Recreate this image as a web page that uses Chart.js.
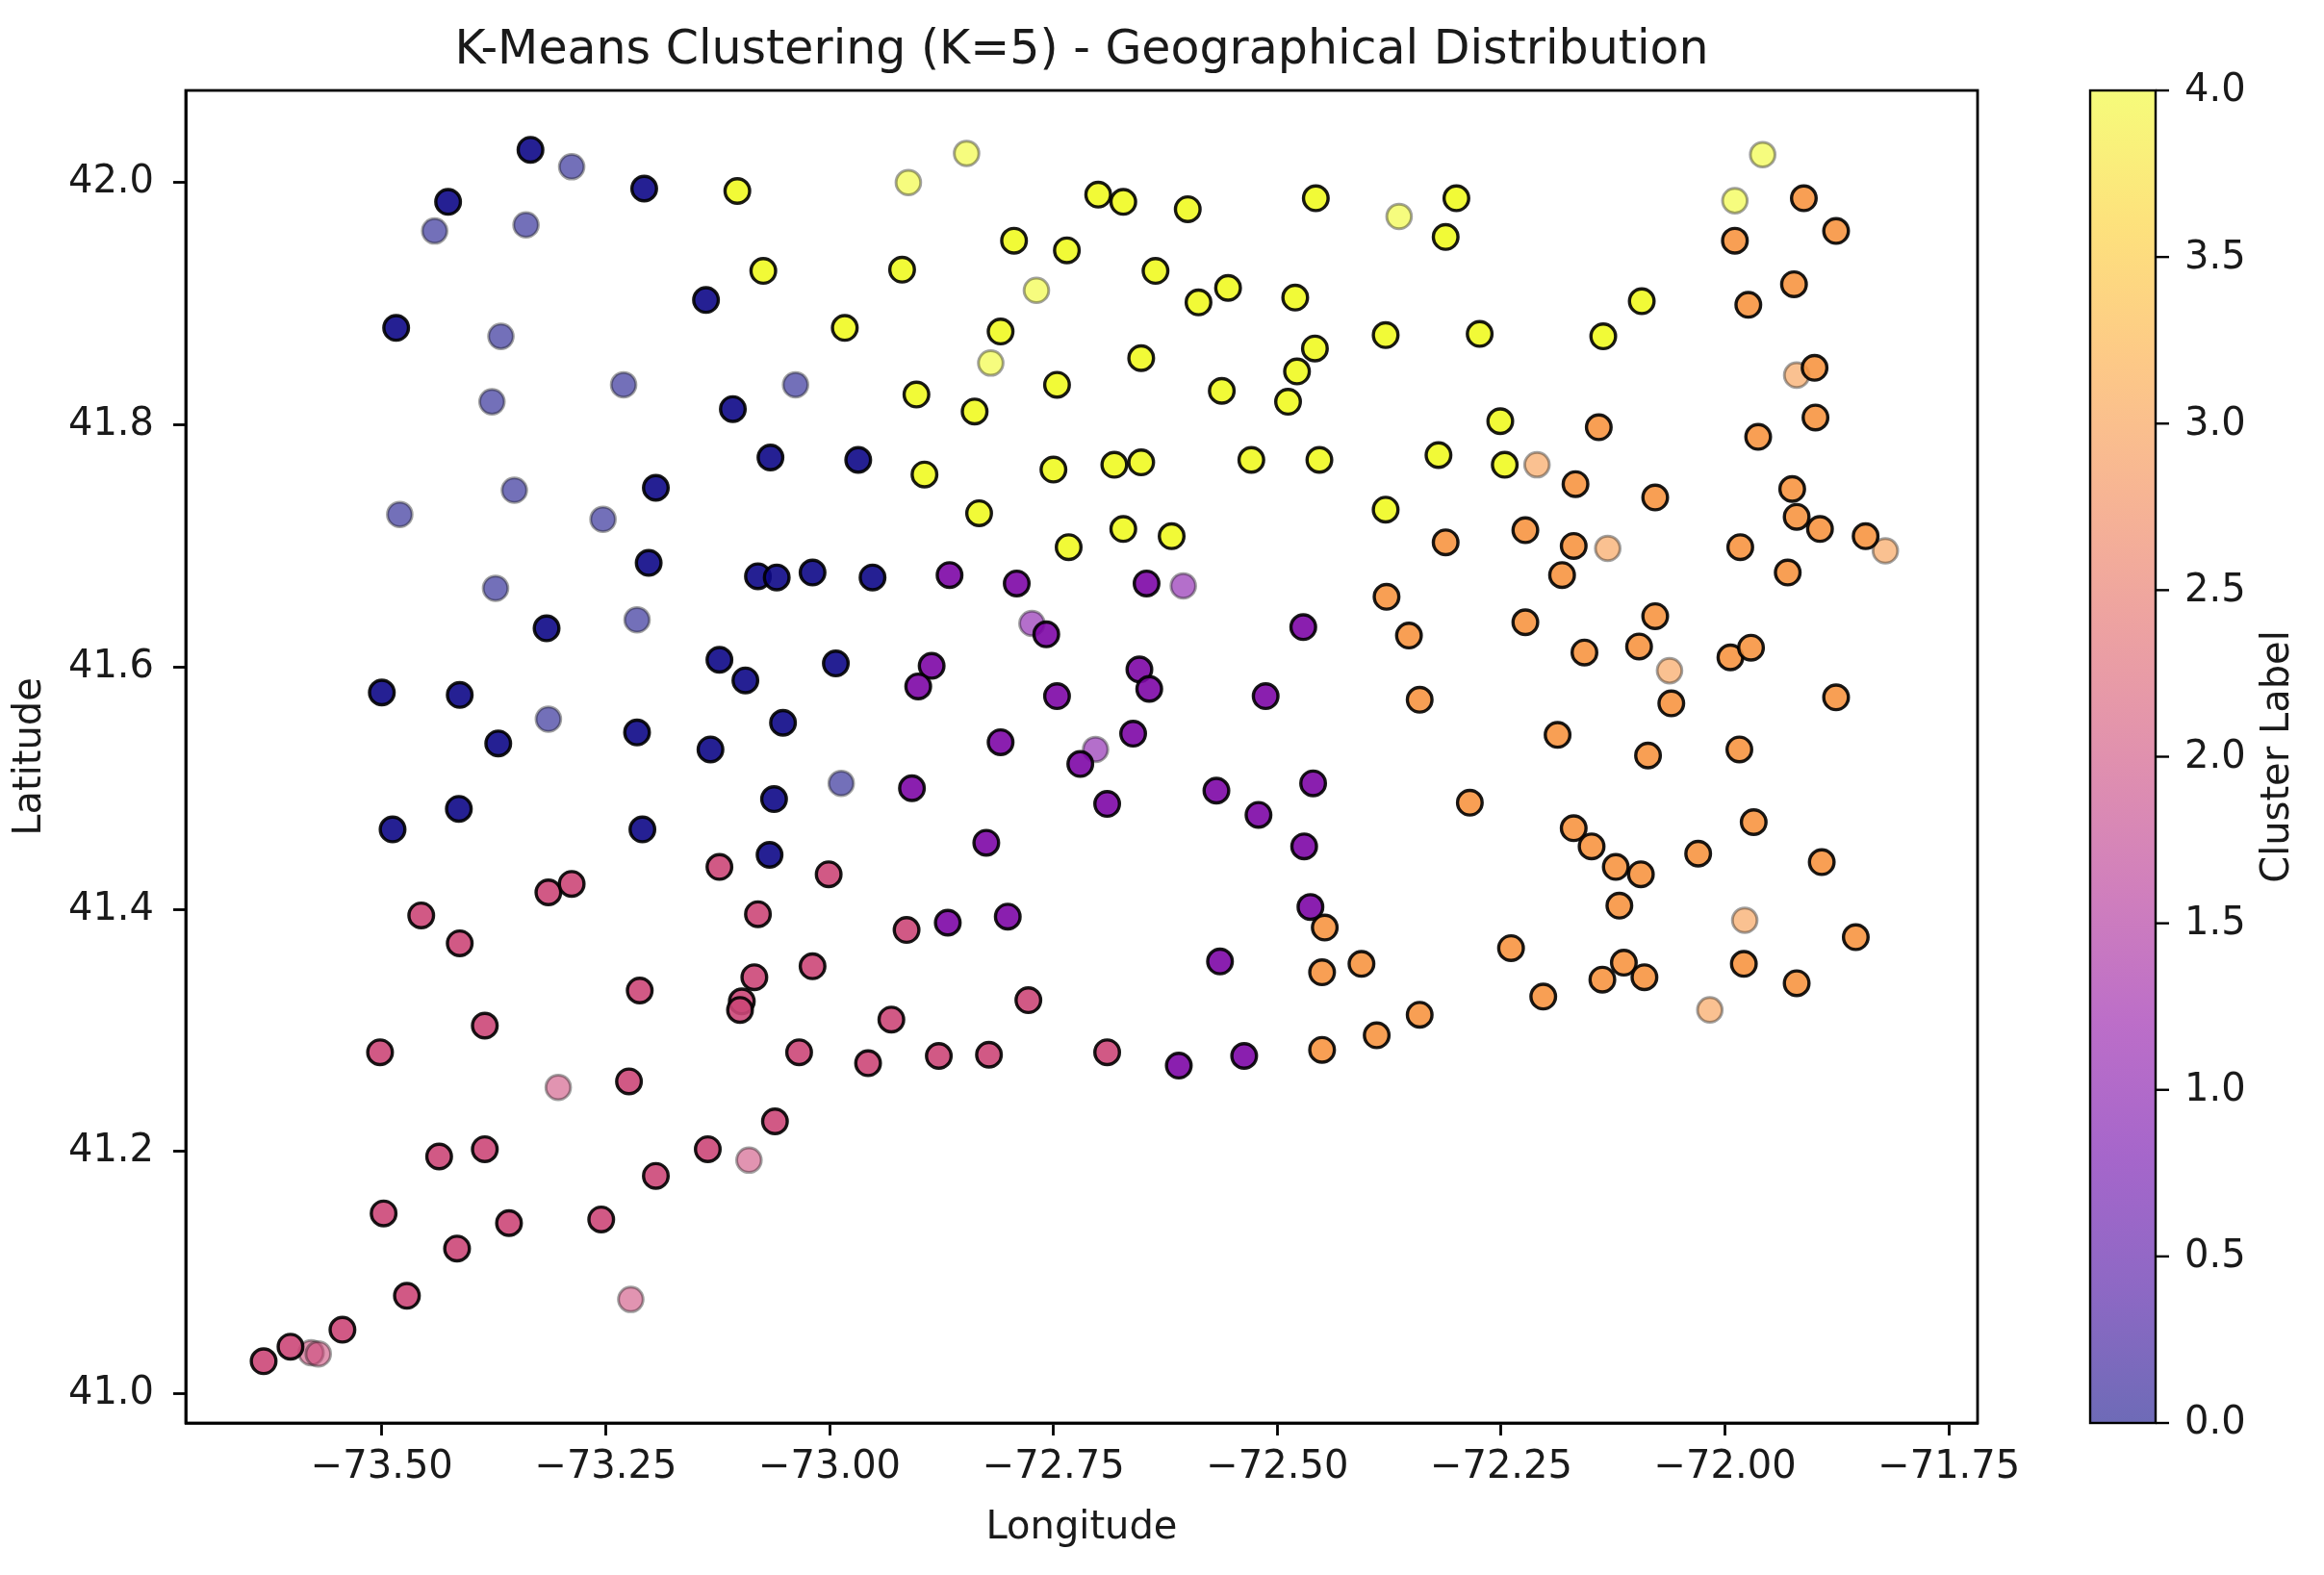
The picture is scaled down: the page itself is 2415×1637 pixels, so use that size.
<!DOCTYPE html>
<html>
<head>
<meta charset="utf-8">
<title>K-Means Clustering (K=5) - Geographical Distribution</title>
<script src="https://cdn.jsdelivr.net/npm/chart.js@4.4.1/dist/chart.umd.min.js"></script>
<style>
  html, body { margin: 0; padding: 0; background: #fff; }
  #wrap { width: 2415px; height: 1637px; }
</style>
</head>
<body>
<div id="wrap"><canvas id="chart" width="2415" height="1637"></canvas></div>
<script>
// Data: longitude / latitude per cluster,
// dup = 2 where the point shows up dark/outlined (drawn twice), 1 where it is faint
const lon0 = [-73.334,-73.288,-73.207,-73.426,-73.441,-73.339,-73.138,-73.484,-73.367,-73.230,-73.038,-73.377,-73.108,-73.066,-72.968,-73.352,-73.194,-73.480,-73.253,-73.202,-73.080,-73.059,-73.019,-72.952,-73.373,-73.316,-73.215,-73.123,-73.094,-72.993,-73.500,-73.413,-73.314,-73.370,-73.215,-73.133,-73.052,-73.414,-73.488,-73.209,-73.062,-73.067,-72.987];
const lat0 = [42.027,42.013,41.995,41.984,41.960,41.965,41.903,41.880,41.873,41.833,41.833,41.819,41.813,41.773,41.771,41.746,41.748,41.726,41.722,41.686,41.675,41.674,41.678,41.674,41.665,41.632,41.639,41.606,41.589,41.603,41.579,41.577,41.557,41.537,41.546,41.532,41.554,41.483,41.466,41.466,41.491,41.445,41.504];
const dup0 = [2,1,2,2,1,1,2,2,1,1,1,1,2,2,2,1,2,1,1,2,2,2,2,2,1,2,1,2,2,2,2,2,1,2,2,2,2,2,2,2,2,2,1];

const lon1 = [-72.866,-72.791,-72.646,-72.605,-72.774,-72.758,-72.471,-72.886,-72.901,-72.654,-72.643,-72.746,-72.513,-72.809,-72.661,-72.703,-72.720,-72.908,-72.690,-72.568,-72.521,-72.460,-72.470,-72.825,-72.868,-72.801,-72.463,-72.564,-72.610,-72.537];
const lat1 = [41.676,41.669,41.669,41.667,41.636,41.627,41.633,41.601,41.584,41.598,41.582,41.576,41.576,41.538,41.545,41.532,41.520,41.500,41.487,41.498,41.478,41.504,41.452,41.455,41.389,41.394,41.402,41.357,41.271,41.279];
const dup1 = [2,2,2,1,1,2,2,2,2,2,2,2,2,2,2,1,2,2,2,2,2,2,2,2,2,2,2,2,2,2];

const lon2 = [-73.123,-73.314,-73.288,-73.456,-73.080,-73.413,-73.084,-73.098,-73.100,-73.212,-73.385,-73.502,-73.303,-73.224,-73.061,-73.436,-73.385,-73.136,-73.090,-73.194,-73.498,-73.358,-73.255,-73.416,-73.472,-73.222,-73.544,-73.632,-73.602,-73.579,-73.571,-73.001,-72.914,-73.019,-72.778,-72.931,-73.034,-72.957,-72.878,-72.822,-72.690];
const lat2 = [41.435,41.414,41.421,41.395,41.396,41.372,41.344,41.324,41.317,41.333,41.304,41.282,41.253,41.258,41.225,41.196,41.202,41.202,41.193,41.180,41.149,41.141,41.144,41.120,41.081,41.078,41.053,41.027,41.039,41.034,41.033,41.429,41.383,41.353,41.325,41.309,41.282,41.273,41.279,41.280,41.282];
const dup2 = [2,2,2,2,2,2,2,2,2,2,2,2,1,2,2,2,2,2,1,2,2,2,2,2,2,1,2,2,2,1,1,2,2,2,2,2,2,2,2,2,2];

const lon3 = [-71.912,-71.876,-71.989,-71.923,-71.974,-71.900,-71.920,-71.899,-71.963,-72.141,-72.210,-72.167,-72.078,-71.925,-71.920,-71.894,-71.843,-71.821,-72.312,-72.223,-72.169,-72.131,-72.182,-71.983,-71.930,-72.378,-72.353,-72.223,-72.078,-72.157,-72.096,-71.994,-71.971,-72.062,-72.341,-72.060,-71.876,-72.187,-72.086,-71.984,-72.285,-72.169,-72.149,-72.122,-72.094,-72.030,-71.968,-71.892,-72.118,-71.978,-71.854,-72.239,-72.113,-72.137,-72.090,-71.979,-71.920,-72.203,-72.341,-72.389,-72.017,-72.447,-72.450,-72.406,-72.450];
const lat3 = [41.987,41.960,41.952,41.916,41.899,41.847,41.841,41.806,41.790,41.798,41.767,41.751,41.740,41.747,41.724,41.714,41.708,41.696,41.703,41.713,41.700,41.698,41.676,41.699,41.678,41.658,41.626,41.637,41.642,41.612,41.617,41.608,41.616,41.597,41.573,41.570,41.575,41.544,41.527,41.532,41.488,41.467,41.452,41.435,41.429,41.446,41.472,41.439,41.403,41.391,41.377,41.368,41.356,41.342,41.344,41.355,41.339,41.328,41.313,41.296,41.317,41.385,41.348,41.355,41.284];
const dup3 = [2,2,2,2,2,2,1,2,2,2,1,2,2,2,2,2,2,1,2,2,2,1,2,2,2,2,2,2,2,2,2,2,2,1,2,2,2,2,2,2,2,2,2,2,2,2,2,2,2,1,2,2,2,2,2,2,2,2,2,2,1,2,2,2,2];

const lon4 = [-73.103,-73.074,-72.847,-72.912,-72.700,-72.672,-72.600,-72.457,-72.794,-72.735,-72.919,-72.636,-72.555,-72.588,-72.480,-72.769,-72.983,-72.809,-72.379,-72.458,-72.652,-72.820,-72.478,-72.746,-72.562,-72.488,-72.903,-72.838,-72.894,-72.750,-72.682,-72.652,-72.529,-72.453,-72.379,-72.833,-72.672,-72.618,-72.733,-72.364,-72.300,-72.312,-71.989,-71.958,-72.093,-72.274,-72.136,-72.251,-72.320,-72.246];
const lat4 = [41.993,41.927,42.024,42.000,41.990,41.984,41.978,41.987,41.952,41.944,41.928,41.927,41.913,41.901,41.905,41.911,41.880,41.877,41.874,41.863,41.855,41.851,41.844,41.833,41.828,41.819,41.825,41.811,41.759,41.763,41.767,41.769,41.771,41.771,41.730,41.727,41.714,41.708,41.699,41.972,41.987,41.955,41.985,42.023,41.902,41.875,41.873,41.803,41.775,41.767];
const dup4 = [2,2,1,1,2,2,2,2,2,2,2,2,2,2,2,1,2,2,2,2,2,1,2,2,2,2,2,2,2,2,2,2,2,2,2,2,2,2,2,1,2,2,1,1,2,2,2,2,2,2];

const clusterLabels = [0, 1, 2, 3, 4];
const xTicks = [-73.5, -73.25, -73.0, -72.75, -72.5, -72.25, -72.0, -71.75];
const yTicks = [41.0, 41.2, 41.4, 41.6, 41.8, 42.0];
const cbTicks = [0.0, 0.5, 1.0, 1.5, 2.0, 2.5, 3.0, 3.5, 4.0];

const lons = [lon0, lon1, lon2, lon3, lon4];
const lats = [lat0, lat1, lat2, lat3, lat4];
const dups = [dup0, dup1, dup2, dup3, dup4];

// plasma colormap samples (t = 0 .. 1)
const plasma = ['#0d0887','#41049d','#6a00a8','#8f0da4','#b12a90','#cc4778','#e16462','#f2844b','#fca636','#fcce25','#f0f921'];

function hexRgb(h) {
    return [parseInt(h.slice(1, 3), 16), parseInt(h.slice(3, 5), 16), parseInt(h.slice(5, 7), 16)];
}
function plasmaAt(t) {
    const p = t * (plasma.length - 1);
    const i = Math.min(Math.floor(p), plasma.length - 2);
    const f = p - i;
    const a = hexRgb(plasma[i]), b = hexRgb(plasma[i + 1]);
    return a.map((v, k) => Math.round(v + (b[k] - v) * f));
}
function rgba(c, a) { return `rgba(${c[0]},${c[1]},${c[2]},${a})`; }

const FONT = 'DejaVu Sans';
const TEXT = '#1a1a1a';
// matplotlib style: unicode minus, two decimals
const lonLabel = v => (v < 0 ? '\u2212' : '') + Math.abs(v).toFixed(2);

// build datasets: outlined (drawn on top) first, faint after
const boldSets = [], faintSets = [];
clusterLabels.forEach(c => {
    const col = plasmaAt(c / 4);
    const bold = [], faint = [];
    lons[c].forEach((x, i) => {
        const pt = { x: x, y: lats[c][i] };
        (dups[c][i] > 1 ? bold : faint).push(pt);
    });
    boldSets.push({
        label: 'Cluster ' + c,
        data: bold,
        pointRadius: 12.8,
        pointBorderWidth: 3.4,
        pointBackgroundColor: rgba(col, 0.9),
        pointBorderColor: 'rgba(0,0,0,0.9)'
    });
    faintSets.push({
        label: 'Cluster ' + c + ' (single)',
        data: faint,
        pointRadius: 12.8,
        pointBorderWidth: 3,
        pointBackgroundColor: rgba(col, 0.58),
        pointBorderColor: 'rgba(30,30,30,0.42)'
    });
});

// title, top/right spines and the colour bar
const decor = {
    id: 'decor',
    afterDraw(chart) {
        const { ctx, chartArea: a } = chart;
        ctx.save();
        ctx.strokeStyle = '#000';
        ctx.lineWidth = 2.8;
        ctx.strokeRect(a.left, a.top, a.right - a.left, a.bottom - a.top);

        ctx.fillStyle = TEXT;
        ctx.font = `49px "${FONT}"`;
        ctx.textAlign = 'center';
        ctx.textBaseline = 'middle';
        ctx.fillText('K-Means Clustering (K=5) - Geographical Distribution', (a.left + a.right) / 2, 53);

        // colour bar
        const cbL = 2172, cbR = 2240, cbT = a.top, cbB = a.bottom;
        const g = ctx.createLinearGradient(0, cbB, 0, cbT);
        for (let k = 0; k <= 20; k++) g.addColorStop(k / 20, rgba(plasmaAt(k / 20), 0.6));
        ctx.fillStyle = g;
        ctx.fillRect(cbL, cbT, cbR - cbL, cbB - cbT);
        ctx.lineWidth = 2.4;
        ctx.strokeRect(cbL, cbT, cbR - cbL, cbB - cbT);

        const cbMax = cbTicks[cbTicks.length - 1];
        ctx.font = `40px "${FONT}"`;
        ctx.textAlign = 'left';
        ctx.fillStyle = TEXT;
        cbTicks.forEach(v => {
            const y = cbB - (v / cbMax) * (cbB - cbT);
            ctx.beginPath();
            ctx.moveTo(cbR, y);
            ctx.lineTo(cbR + 14, y);
            ctx.stroke();
            ctx.fillText(v.toFixed(1), 2270, y + 1);
        });

        ctx.translate(2368, (cbT + cbB) / 2);
        ctx.rotate(-Math.PI / 2);
        ctx.textAlign = 'center';
        ctx.fillText('Cluster Label', 0, 0);
        ctx.restore();
    }
};

new Chart(document.getElementById('chart'), {
    type: 'scatter',
    data: { datasets: [...boldSets, ...faintSets] },
    options: {
        responsive: false,
        animation: false,
        events: [],
        layout: { padding: { top: 94, right: 360, left: 0, bottom: 0 } },
        plugins: {
            legend: { display: false },
            tooltip: { enabled: false },
            title: { display: false }
        },
        scales: {
            x: {
                type: 'linear',
                min: -73.719,
                max: -71.718,
                afterFit: s => { s.height = 158; },
                afterBuildTicks: s => { s.ticks = xTicks.map(v => ({ value: v })); },
                grid: { drawOnChartArea: false, drawTicks: true, tickLength: 13, tickWidth: 2.8, tickColor: '#000' },
                border: { display: true, color: '#000', width: 2.8 },
                ticks: {
                    padding: 10,
                    color: TEXT,
                    font: { family: FONT, size: 40 },
                    maxRotation: 0,
                    autoSkip: false,
                    callback: v => lonLabel(v)
                },
                title: {
                    display: true,
                    text: 'Longitude',
                    color: TEXT,
                    font: { family: FONT, size: 40 },
                    padding: { top: 0, bottom: 24 }
                }
            },
            y: {
                type: 'linear',
                min: 40.976,
                max: 42.076,
                afterFit: s => { s.width = 193; },
                afterBuildTicks: s => { s.ticks = yTicks.map(v => ({ value: v })); },
                grid: { drawOnChartArea: false, drawTicks: true, tickLength: 13, tickWidth: 2.8, tickColor: '#000' },
                border: { display: true, color: '#000', width: 2.8 },
                ticks: {
                    padding: 20,
                    color: TEXT,
                    font: { family: FONT, size: 40 },
                    autoSkip: false,
                    callback: v => v.toFixed(1)
                },
                title: {
                    display: true,
                    text: 'Latitude',
                    color: TEXT,
                    font: { family: FONT, size: 40 },
                    padding: { top: 8, bottom: 0 }
                }
            }
        }
    },
    plugins: [decor]
});
</script>
</body>
</html>
